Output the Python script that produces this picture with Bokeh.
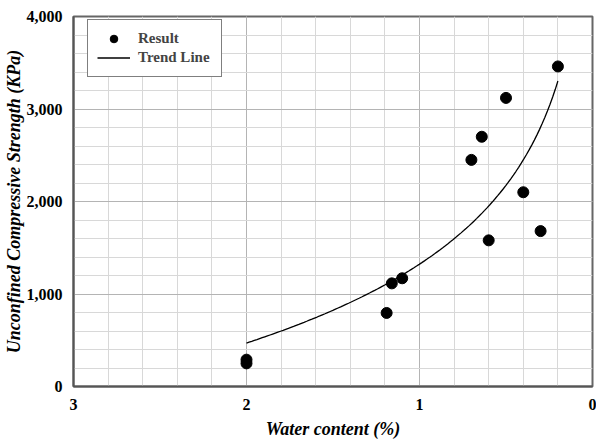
import numpy as np
from bokeh.plotting import figure
from bokeh.models import Range1d, SingleIntervalTicker, NumeralTickFormatter, ColumnDataSource
from bokeh.embed import file_html
from bokeh.resources import INLINE

# Data
water_content = [0.2, 0.5, 0.64, 0.7, 0.4, 0.6, 0.3, 1.1, 1.16, 1.19, 2.0, 2.0]
strength_kpa = [3460, 3120, 2700, 2450, 2100, 1580, 1680, 1170, 1115, 795, 290, 250]
x_ticks = [0, 1, 2, 3]
y_ticks = [0, 1000, 2000, 3000, 4000]

# Logarithmic trend line (least-squares fit of the data, as in the source chart)
coef = np.polyfit(np.log(water_content), strength_kpa, 1)
trend_x = np.linspace(min(water_content), max(water_content), 120)
trend_y = coef[0] * np.log(trend_x) + coef[1]

FONT = "Liberation Serif"

p = figure(width=596, height=441, output_backend="svg", toolbar_location=None,
           x_range=Range1d(3, 0), y_range=Range1d(0, 4000),
           min_border_left=72, min_border_right=4, min_border_top=16, min_border_bottom=55)

p.background_fill_color = "white"
p.border_fill_color = "white"
p.outline_line_color = "#666666"
p.outline_line_width = 2

src = ColumnDataSource(dict(x=water_content, y=strength_kpa))
p.scatter("x", "y", source=src, size=11, color="black", legend_label="Result")
p.line(trend_x, trend_y, line_color="black", line_width=1.3, legend_label="Trend Line")

p.xaxis.ticker = SingleIntervalTicker(interval=1, num_minor_ticks=5)
p.yaxis.ticker = SingleIntervalTicker(interval=1000, num_minor_ticks=5)
p.yaxis.formatter = NumeralTickFormatter(format="0,0")

for ax in (p.xaxis, p.yaxis):
    ax.major_tick_line_color = None
    ax.minor_tick_line_color = None
    ax.major_tick_out = 0
    ax.major_tick_in = 0
    ax.axis_line_color = "#555555"
    ax.axis_line_width = 2
    ax.major_label_text_font = FONT
    ax.major_label_text_font_style = "bold"
    ax.major_label_text_font_size = "16px"
    ax.major_label_text_color = "black"
    ax.axis_label_text_font = FONT
    ax.axis_label_text_font_style = "bold italic"
    ax.axis_label_text_font_size = "18px"
    ax.axis_label_text_color = "black"

p.xaxis.axis_label = "Water content (%)"
p.yaxis.axis_label = "Unconfined Compressive Strength (KPa)"
p.xaxis.major_label_standoff = 8
p.yaxis.major_label_standoff = 7
p.xaxis.axis_label_standoff = 6
p.yaxis.axis_label_standoff = 0

for g in (p.xgrid, p.ygrid):
    g.grid_line_color = "#b4b4b4"
    g.grid_line_width = 1
    g.minor_grid_line_color = "#d8d8d8"
    g.minor_grid_line_width = 1

lg = p.legend[0]
lg.location = (14, 309)
lg.border_line_color = "black"
lg.border_line_width = 1
lg.background_fill_color = "white"
lg.background_fill_alpha = 1
lg.label_text_font = FONT
lg.label_text_font_style = "bold"
lg.label_text_font_size = "15px"
lg.glyph_width = 33
lg.glyph_height = 19
lg.label_height = 19
lg.label_width = 74
lg.label_standoff = 8
lg.spacing = 0
lg.padding = 9
lg.margin = 0

open("out.html", "w").write(file_html(p, INLINE))
